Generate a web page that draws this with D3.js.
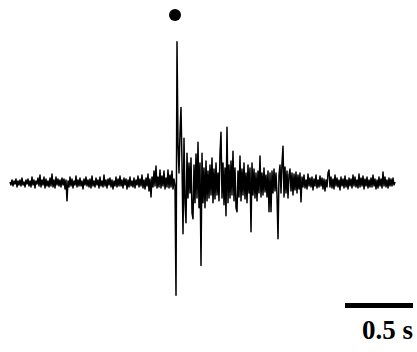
<!DOCTYPE html>
<html>
<head>
<meta charset="utf-8">
<script src="https://cdn.jsdelivr.net/npm/d3@7"></script>
<style>
  html, body { margin: 0; padding: 0; background: #fff; }
  svg { display: block; }
  .trace { fill: none; stroke: #000; stroke-width: 1.5; stroke-linejoin: round; }
  .scale-label { font-family: "Liberation Serif", "Times New Roman", serif; font-weight: bold; }
</style>
</head>
<body>
<div id="chart"></div>
<script>
// amplitude samples (arbitrary units, up positive), one sample every 0.5/68 s
const preStimulus = [
  1, -2, 3, -3, 2, -1, 4, -4, 2, -2,
  3, -3, 5, -2, 1, -4, 3, -1, 4, -3,
  2, -4, 6, -2, 3, -5, 2, -1, 5, -3,
  8, -4, 3, -2, 6, -5, 4, -3, 2, -4,
  5, -3, 9, -4, 3, -5, 6, -2, 4, -3,
  3, -4, 5, -2, 4, -6, 3, -18, 2, -4,
  6, -3, 4, -5, 2, -2, 7, -4, 3, -3,
  5, -3, 2, -6, 4, -2, 6, -3, 3, -4,
  4, -5, 7, -3, 2, -4, 5, -2, 3, -5,
  6, -3, 2, -4, 8, -3, 3, -5, 4, -2,
  5, -4, 3, -6, 2, -3, 6, -4, 4, -3,
  7, -3, 3, -5, 5, -2, 4, -6, 3, -4,
  6, -3, 2, -4, 5, -5, 3, -2, 7, -4,
  4, -3, 8, -5, 3, -6, 5, -3, 9, -8,
  4, -14, 6, -4, 12, -3, 17, -5, 6, -4,
  13, -5, 7, -3, 12, -6, 5, -4, 13, -5,
  8, -4, 12, -6, 4, -3
];

const response = [
  -113, 142, 40, 10, 50, 76, 20, -51, 45, -20, -40, 30, -15, 20,
  -10, 25, -30, -36, 18, -20, 29, -15, 41, -25,
  20, -83, 30, -20, 15, -25, 22, -18, 12, -15,
  18, -12, 25, -20, 14, -16, 20, -12, 10, -18,
  30, 51, -15, 20, -22, 15, -33, 56, -20, 18,
  -15, 22, -12, 32, -18, 15, -25, -29, 12, -14,
  27, -18, 14, -12, 20, -16, 10, -20, 18, -10,
  15, -49, 20, -12, 14, -15, 10, -18, 12, -10,
  27, -14, 10, -12, 15, -9, 8, -14, 12, -29,
  10, -29, 12, -10, 14, -8, 10, -12, -56, 8,
  18, -10, 20, 37, -14, 16, -10, 12, -15, 8,
  14, -8, 10, -12, 9, -7, 11, -10, 8, -6,
  10
];

const postStimulus = [
  -19, 6, -4, 8, -5, 3, -6, 9, -3, 5,
  -4, 6, -7, 4, -3, 8, -5, 3, -4, 7,
  -3, 5, -6, 4, -8, 3, -4, 10, 13, -4,
  6, -5, 4, -6, 8, -3, 5, -4, 3, -7,
  6, -3, 4, -5, 7, -4, 3, -6, 5, -3,
  4, -5, 8, -3, 6, -4, 3, -5, 9, -4,
  5, -3, 7, -6, 4, -3, 6, -5, 3, -4,
  5, -4, 8, -3, 4, -6, 3, -5, 6, -3,
  4, -5, 11, -3, 6, -4, 3, -5, 5, -3,
  4, -3, 5, -2, 1
];

const sampleInterval = 0.5 / 68; // s
const stimulusTime = 166 * sampleInterval; // marked by the dot
const scaleBarSeconds = 0.5;
const scaleBarLabel = "0.5 s";

const width = 417;
const height = 352;

const signal = [...preStimulus, ...response, ...postStimulus];
const samples = signal.map((v, i) => ({ t: i * sampleInterval, v }));

const x = d3.scaleLinear()
  .domain([0, (signal.length - 1) * sampleInterval])
  .range([10, 10 + (signal.length - 1)]);

const y = d3.scaleLinear()
  .domain([-170, 184])
  .range([height, 0]);

const svg = d3.select("#chart")
  .append("svg")
  .attr("width", width)
  .attr("height", height)
  .attr("viewBox", [0, 0, width, height]);

const line = d3.line()
  .x((d) => x(d.t))
  .y((d) => y(d.v));

svg.append("path")
  .datum(samples)
  .attr("class", "trace")
  .attr("d", line);

// stimulus marker
svg.append("circle")
  .attr("cx", x(stimulusTime - sampleInterval))
  .attr("cy", 15)
  .attr("r", 6)
  .attr("fill", "#000");

// time scale bar, right-aligned
const barRight = 413;
const barWidth = x(scaleBarSeconds) - x(0);
svg.append("rect")
  .attr("x", barRight - barWidth)
  .attr("y", 303)
  .attr("width", barWidth)
  .attr("height", 5)
  .attr("fill", "#000");

svg.append("text")
  .attr("class", "scale-label")
  .attr("x", barRight)
  .attr("y", 339)
  .attr("text-anchor", "end")
  .attr("font-size", 27)
  .text(scaleBarLabel);
</script>
</body>
</html>
